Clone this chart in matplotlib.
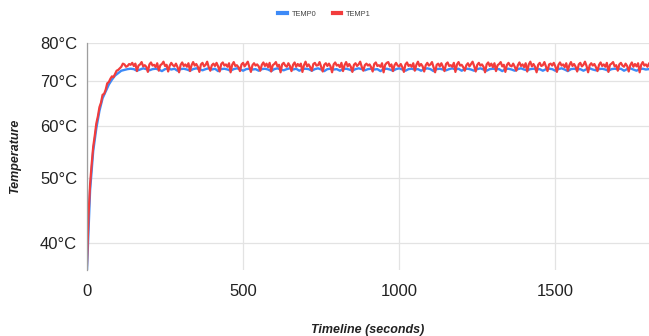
import numpy as np
import matplotlib
matplotlib.use("Agg")
import matplotlib.pyplot as plt
from matplotlib.ticker import FixedLocator, NullLocator, FuncFormatter
from matplotlib.lines import Line2D

plt.rcParams['font.family'] = ['Liberation Sans', 'DejaVu Sans']

# time axes (seconds): TEMP0 read every 10 s, TEMP1 every 5 s
seconds_temp0 = np.arange(0, 1801, 10)
seconds_temp1 = np.arange(0, 1801, 5)

temp0_rise = [36.4, 48.0, 55.0, 59.5, 63.2, 66.0, 67.6, 69.2, 70.4, 71.4,
              72.0, 72.6, 72.8, 73.0]
temp0_plateau = [
    73.1, 73.0, 72.6, 72.9, 73.2, 73.0, 72.7, 73.0, 73.1, 72.9,
    72.5, 73.0, 73.2, 72.9, 73.1, 72.6, 73.0, 73.1, 72.9, 72.6,
    73.0, 73.2, 73.0, 72.7, 73.0, 73.2, 72.9, 73.1, 72.5, 73.0,
    73.1, 72.9, 72.6, 73.0, 73.2, 73.0, 72.6, 73.0, 73.1, 72.9,
    73.0, 72.6, 73.0, 73.1, 72.9, 72.5, 73.0, 73.2, 72.9, 72.7,
    73.0, 73.2, 72.9, 73.1, 72.6, 73.0, 73.1, 73.0, 72.6, 73.0,
    73.2, 72.9, 72.5, 73.0, 73.1, 72.9, 73.0, 72.6, 73.0, 73.1,
    72.9, 72.6, 73.0, 73.2, 73.0, 72.7, 73.0, 73.1, 72.9, 73.0,
    72.5, 73.0, 73.1, 72.9, 72.6, 73.0, 73.2, 72.9, 72.6, 73.0,
    73.1, 72.9, 73.0, 72.6, 73.0, 73.2, 73.0, 72.5, 73.0, 73.1,
    72.9, 72.7, 73.0, 73.2, 72.9, 73.1, 72.6, 73.0, 73.1, 72.9,
    72.6, 73.0, 73.2, 72.9, 72.6, 73.0, 73.1, 73.0, 73.0, 72.5,
    73.0, 73.1, 72.9, 72.6, 73.0, 73.2, 72.9, 72.7, 73.0, 73.1,
    72.9, 73.0, 72.6, 73.0, 73.1, 73.0, 72.6, 73.0, 73.2, 72.9,
    72.5, 73.0, 73.1, 72.9, 73.0, 72.6, 73.0, 73.2, 72.9, 72.7,
    73.0, 73.1, 72.9, 72.6, 73.0, 73.1, 73.0, 73.1, 72.6, 73.0,
    73.2, 72.9, 72.6, 73.0, 73.1, 72.9, 73.0]

temp1_rise = [37.0, 44.0, 49.0, 52.5, 55.8, 58.0, 60.5, 62.0, 64.0, 65.0,
              66.8, 67.0, 68.0, 69.5, 69.8, 70.6, 71.2, 71.0, 71.8, 72.6,
              72.8, 73.2, 73.6, 74.4, 74.2, 73.6, 73.8, 74.3]
temp1_plateau = [
    74.1, 74.6, 73.8, 74.4, 72.5, 73.9, 74.2, 74.8, 73.7, 74.0, 73.6, 72.3,
    74.2, 74.7, 73.9, 74.1, 73.5, 74.5, 72.6, 74.0, 74.3, 74.9, 73.8, 74.1,
    72.4, 73.9, 74.6, 74.0, 73.7, 74.4, 73.5, 72.2, 74.1, 74.7, 73.8, 74.2,
    73.6, 74.5, 72.5, 74.0, 74.8, 73.9, 74.3, 73.6, 72.3, 74.2, 74.6, 73.7,
    74.1, 74.9, 73.5, 72.6, 74.0, 74.4, 73.8, 74.6, 73.7, 72.4, 74.3, 74.7,
    73.9, 74.2, 73.6, 74.5, 72.2, 74.1, 74.8, 73.8, 74.0, 73.5, 72.5, 74.2,
    74.6, 73.7, 74.3, 74.9, 73.6, 72.3, 74.0, 74.5, 73.9, 74.2, 73.7, 72.6,
    74.1, 74.7, 73.8, 74.4, 73.5, 74.6, 72.4, 74.0, 74.3, 74.8, 73.7, 74.1,
    72.2, 74.2, 74.6, 73.9, 73.6, 74.5, 73.8, 72.5, 74.1, 74.7, 73.6, 74.3,
    73.8, 74.4, 72.3, 74.0, 74.9, 73.7, 74.2, 73.5, 72.6, 74.3, 74.6, 73.9,
    74.0, 74.8, 73.6, 72.4, 74.1, 74.5, 73.8, 74.4, 73.7, 72.2, 74.2, 74.7,
    73.9, 74.1, 73.5, 74.6, 72.5, 74.0, 74.8, 73.7, 74.3, 73.6, 72.3, 74.1,
    74.5, 73.8, 74.2, 74.9, 73.6, 72.6, 74.0, 74.4, 73.9, 74.2, 73.5, 72.4,
    74.3, 74.7, 73.8, 74.0, 73.6, 74.5, 72.2, 74.1, 74.6, 74.8, 73.7, 74.2,
    72.5, 74.0, 74.6, 73.9, 73.7, 74.3, 73.5, 72.3, 74.2, 74.7, 73.8, 74.1,
    73.6, 74.5, 72.6, 74.1, 74.9, 73.8, 74.3, 73.7, 72.4, 74.0, 74.6, 73.9,
    74.2, 74.8, 73.5, 72.2, 74.1, 74.4, 73.7, 74.5, 73.6, 72.5, 74.3, 74.7,
    73.8, 74.0, 73.6, 74.6, 72.3, 74.2, 74.8, 73.9, 74.1, 73.5, 72.6, 74.0,
    74.5, 73.7, 74.3, 74.9, 73.8, 72.4, 74.1, 74.6, 73.9, 74.2, 73.6, 72.2,
    74.2, 74.7, 73.8, 74.4, 73.5, 74.5, 72.5, 74.0, 74.3, 74.8, 73.7, 74.1,
    72.3, 74.1, 74.6, 73.9, 73.7, 74.4, 73.6, 72.6, 74.0, 74.7, 73.8, 74.2,
    73.5, 74.5, 72.4, 74.2, 74.9, 73.7, 74.3, 73.6, 72.2, 74.1, 74.6, 73.8,
    74.0, 74.8, 73.6, 72.5, 74.2, 74.4, 73.9, 74.6, 73.7, 72.3, 74.1, 74.7,
    73.9, 74.2, 73.5, 74.5, 72.6, 74.0, 74.8, 73.8, 74.3, 73.6, 72.4, 74.2,
    74.6, 73.7, 74.1, 74.9, 73.8, 72.2, 74.0, 74.5, 73.9, 74.3, 73.5, 72.5,
    74.1, 74.7, 73.8, 74.2, 73.6, 74.6, 72.3, 74.1, 74.4, 74.8, 73.7, 74.0,
    72.6, 74.2, 74.6, 73.9, 73.6, 74.4, 73.8, 72.4, 74.0, 74.7, 73.6, 74.3,
    73.7, 74.5, 72.2, 74.1, 74.8, 73.9, 74.2, 73.6, 74.4]

temp0 = temp0_rise + temp0_plateau
temp1 = temp1_rise + temp1_plateau

series_names = ["TEMP0", "TEMP1"]
series_colors = ["#3d8af7", "#f23c3c"]
y_ticks = [40, 50, 60, 70, 80]
x_ticks = [0, 500, 1000, 1500]

fig = plt.figure(figsize=(6.49, 3.36), dpi=100)
ax = fig.add_axes([0.134, 0.196, 0.866, 0.677])

ax.plot(seconds_temp0, temp0, color=series_colors[0], lw=1.7,
        solid_joinstyle='round')
ax.plot(seconds_temp1, temp1, color=series_colors[1], lw=1.6,
        solid_joinstyle='round')

ax.set_yscale('log')
ax.set_ylim(36.4, 80)
ax.set_xlim(0, 1800)
ax.yaxis.set_major_locator(FixedLocator(y_ticks))
ax.yaxis.set_minor_locator(NullLocator())
ax.yaxis.set_major_formatter(FuncFormatter(lambda v, p: f"{v:.0f}°C"))
ax.xaxis.set_major_locator(FixedLocator(x_ticks))

ax.grid(True, color='#e3e3e3', lw=0.9)
ax.set_axisbelow(True)
for s in ['top', 'right', 'bottom']:
    ax.spines[s].set_visible(False)
ax.spines['left'].set_color('#9e9e9e')
ax.spines['left'].set_linewidth(0.9)

ax.tick_params(axis='both', length=0, labelsize=12, colors='#222222')
ax.tick_params(axis='y', pad=7)
ax.tick_params(axis='x', pad=10)

ax.set_xlabel("Timeline (seconds)", fontsize=9, fontweight='bold',
              fontstyle='italic', labelpad=18, color='#222222')
ax.set_ylabel("Temperature", fontsize=9, fontweight='bold',
              fontstyle='italic', labelpad=14, color='#222222')

handles = [Line2D([0], [0], color=c, lw=3) for c in series_colors]
fig.legend(handles, series_names, loc='center', bbox_to_anchor=(0.5, 0.958),
           ncol=2, frameon=False, fontsize=5.3, handlelength=1.1,
           handletextpad=0.7, columnspacing=2.2, labelcolor='#444444')

fig.savefig("out.png", dpi=100)
